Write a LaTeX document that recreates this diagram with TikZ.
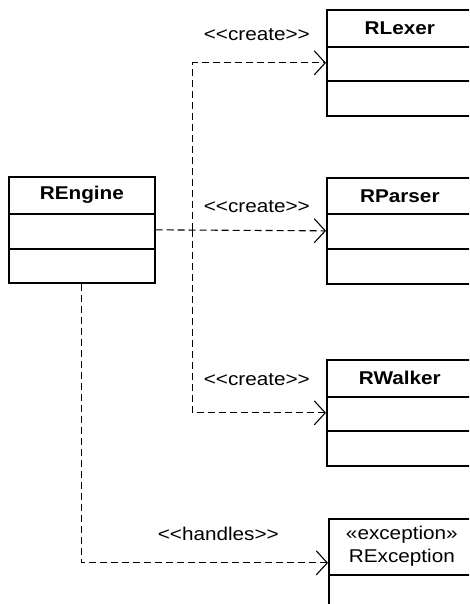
\documentclass[tikz,border=0pt]{standalone}
\usepackage{fontspec}
\setmainfont{Liberation Sans}[FakeStretch=1.12]
\usetikzlibrary{arrows.meta}

\begin{document}
\begin{tikzpicture}[x=1pt,y=-1pt,
  classbox/.style={draw,line width=1.7pt,anchor=north west,minimum width=146pt,minimum height=106pt,inner sep=0pt},
  classname/.style={font=\fontsize{18.5}{24}\selectfont\bfseries},
  divider/.style={line width=1.7pt},
  dep/.style={dash pattern=on 7pt off 4pt,line width=1.1pt,-{Straight Barb[length=11pt,width=24pt]}},
  deplabel/.style={font=\fontsize{18.5}{23}\selectfont,inner sep=0pt}]

%画布大小，右边和下边的类框被截掉
\clip (0,0) rectangle (469,604);

%左边的REngine
\node[classbox] (engine) at (8,176) {};
\node[classname] (engine-name) at ([yshift=-19pt]engine.north) {REngine};
\draw[divider] ([yshift=-38pt]engine.north west) -- ([yshift=-38pt]engine.north east);
\draw[divider] ([yshift=-73pt]engine.north west) -- ([yshift=-73pt]engine.north east);

%右边的RLexer
\node[classbox] (lexer) at (326,9) {};
\node[classname] (lexer-name) at ([yshift=-19pt]lexer.north) {RLexer};
\draw[divider] ([yshift=-38pt]lexer.north west) -- ([yshift=-38pt]lexer.north east);
\draw[divider] ([yshift=-72pt]lexer.north west) -- ([yshift=-72pt]lexer.north east);

%右边的RParser
\node[classbox] (parser) at (326,177) {};
\node[classname] (parser-name) at ([yshift=-19pt]parser.north) {RParser};
\draw[divider] ([yshift=-37pt]parser.north west) -- ([yshift=-37pt]parser.north east);
\draw[divider] ([yshift=-72pt]parser.north west) -- ([yshift=-72pt]parser.north east);

%右边的RWalker
\node[classbox] (walker) at (326,359) {};
\node[classname] (walker-name) at ([yshift=-19pt]walker.north) {RWalker};
\draw[divider] ([yshift=-38pt]walker.north west) -- ([yshift=-38pt]walker.north east);
\draw[divider] ([yshift=-72pt]walker.north west) -- ([yshift=-72pt]walker.north east);

%下面的RException，只露出上半截
\node[classbox,minimum height=88pt] (exception) at (328,518) {};
\node[deplabel,align=center] (exception-name) at ([yshift=-28.5pt]exception.north) {«exception»\\RException};
\draw[divider] ([yshift=-57pt]exception.north west) -- ([yshift=-57pt]exception.north east);

%create的三条虚线
\coordinate (fork) at ([xshift=37pt]engine.east);
\draw[dep] (engine.east) -- (parser.west);
\draw[dep] (fork) |- (lexer.west);
\draw[dep] (fork) |- (walker.west);

%handles的虚线
\draw[dep] (engine.south) |- (exception.west);

%虚线上的文字
\node[deplabel,anchor=base east] (create-lexer) at ([xshift=-16pt,yshift=22pt]lexer.west) {<\kern0pt<create>\kern0pt>};
\node[deplabel,anchor=base east] (create-parser) at ([xshift=-16pt,yshift=18pt]parser.west) {<\kern0pt<create>\kern0pt>};
\node[deplabel,anchor=base east] (create-walker) at ([xshift=-16pt,yshift=27pt]walker.west) {<\kern0pt<create>\kern0pt>};
\node[deplabel,anchor=base east] (handles) at ([xshift=-49pt,yshift=22pt]exception.west) {<\kern0pt<handles>\kern0pt>};

\end{tikzpicture}
\end{document}
